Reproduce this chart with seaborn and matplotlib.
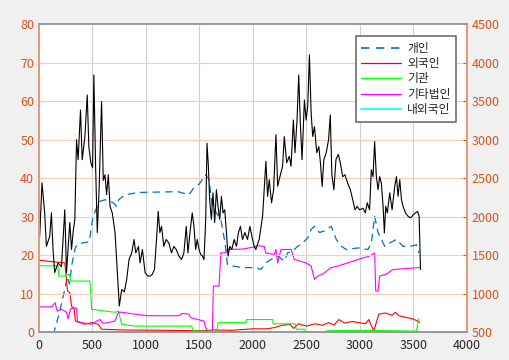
import numpy as np
import pandas as pd
import matplotlib
matplotlib.use("Agg")
import matplotlib.pyplot as plt
import seaborn as sns

sns.set_style("white")
plt.rcParams["font.family"] = ["Noto Sans CJK KR", "DejaVu Sans"]
plt.rcParams["font.size"] = 9

ORANGE = "#D95319"

# ---------------------------------------------------------------------------
# data (left axis: %, right axis: price)
# ---------------------------------------------------------------------------
price_x = [6, 28, 53, 69, 100, 116, 131, 147, 178, 210, 241, 257, 288, 304, 319, 335, 351, 366,
           388, 404, 429, 451, 466, 485, 501, 513, 529, 545, 563, 585, 601, 617, 632, 648, 664,
           685, 711, 735, 751, 773, 798, 820, 842, 867, 889, 905, 930, 945, 967, 992, 1017,
           1040, 1058, 1080, 1099, 1115, 1130, 1146, 1167, 1189, 1214, 1239, 1261, 1283, 1308,
           1333, 1355, 1377, 1393, 1412, 1433, 1449, 1465, 1480, 1496, 1512, 1528, 1543, 1559,
           1571, 1584, 1596, 1612, 1627, 1643, 1659, 1674, 1690, 1706, 1721, 1737, 1753, 1768,
           1784, 1803, 1825, 1847, 1865, 1884, 1903, 1925, 1950, 1972, 1997, 2013, 2028, 2059,
           2091, 2122, 2138, 2153, 2175, 2194, 2216, 2232, 2253, 2278, 2294, 2316, 2341, 2357,
           2379, 2394, 2413, 2429, 2444, 2460, 2482, 2498, 2513, 2529, 2545, 2560, 2576, 2598,
           2617, 2632, 2648, 2664, 2686, 2708, 2724, 2739, 2758, 2777, 2799, 2818, 2840, 2861,
           2887, 2912, 2934, 2956, 2975, 2998, 3030, 3052, 3070, 3092, 3108, 3124, 3139, 3155,
           3171, 3186, 3202, 3218, 3230, 3243, 3258, 3280, 3302, 3327, 3343, 3358, 3374, 3390,
           3405, 3427, 3452, 3477, 3499, 3521, 3540, 3555, 3568]
price_y = [1745, 2440, 2050, 1615, 1745, 2050, 1575, 1275, 1400, 1350, 2090, 1275, 1925, 1575,
           1800, 1965, 3000, 2740, 3385, 2740, 3040, 3580, 2910, 2700, 2635, 3840, 2675, 1795,
           2395, 3495, 2470, 2545, 2285, 2545, 2135, 2050, 1795, 1230, 840, 1055, 1025, 1185,
           1445, 1530, 1705, 1530, 1615, 1400, 1575, 1275, 1230, 1230, 1250, 1315, 1705, 2070,
           1795, 1875, 1615, 1705, 1660, 1530, 1615, 1575, 1490, 1445, 1530, 1875, 1530, 1795,
           2050, 1875, 1575, 1705, 1575, 1510, 1490, 1445, 1965, 2955, 2655, 2220, 1965, 2310,
           1925, 2350, 2135, 1965, 2265, 2050, 2090, 1795, 1490, 1615, 1575, 1705, 1615, 1795,
           1875, 1705, 1795, 1705, 1875, 1705, 1615, 1575, 1705, 2005, 2720, 2265, 2480, 2180,
           2350, 3065, 2395, 2520, 2655, 3040, 2700, 2785, 2655, 3255, 2830, 3255, 3840, 3210,
           2740, 3515, 3255, 3430, 4100, 3345, 3040, 3170, 2830, 2910, 2700, 2395, 2740, 2830,
           3000, 3320, 2545, 2350, 2740, 2810, 2700, 2520, 2545, 2435, 2350, 2220, 2090, 2135,
           2090, 2110, 2050, 2180, 2090, 2610, 2520, 2975, 2520, 2350, 2520, 2435, 2135, 1790,
           2135, 2050, 2310, 2090, 2395, 2520, 2265, 2480, 2220, 2135, 2050, 2005, 1985, 2025,
           2050, 2070, 2005, 1315]

indiv_x = [0, 140, 190, 240, 265, 285, 310, 340, 366, 470, 500, 530, 570, 617, 664, 700, 726,
           745, 804, 930, 1300, 1402, 1449, 1496, 1559, 1590, 1621, 1659, 1700, 1740, 1762,
           1809, 1903, 2022, 2075, 2122, 2169, 2232, 2294, 2325, 2388, 2419, 2466, 2513, 2545,
           2576, 2623, 2670, 2733, 2780, 2828, 2874, 2984, 3077, 3108, 3139, 3171, 3202, 3233,
           3280, 3343, 3405, 3468, 3530, 3555]
indiv_y = [0, 0, 5, 11, 14.5, 12.5, 18, 22, 23, 23.5, 29.3, 31.8, 34, 34.4, 34, 33.5, 32.7,
           34.4, 35.7, 36.3, 36.5, 35.7, 37.5, 38.4, 40.9, 39.6, 32.7, 31, 29.3, 23.2, 17.6,
           17.2, 16.8, 16.8, 16.3, 18, 18.9, 19.8, 18.5, 20.6, 21.5, 22.3, 23.2, 24.5, 26.7,
           27.5, 25.9, 26.3, 27.5, 24.1, 22.3, 21.5, 21.9, 21.5, 23.2, 30.1, 25.9, 24.1, 22.3,
           23.2, 24.1, 22.3, 22.3, 22.7, 20.6]

foreign_x = [0, 241, 257, 266, 288, 304, 329, 341, 382, 429, 492, 554, 585, 773, 1200, 1500,
             1650, 1800, 2000, 2129, 2200, 2270, 2350, 2380, 2427, 2500, 2583, 2650, 2708,
             2760, 2803, 2860, 2928, 3053, 3084, 3131, 3178, 3240, 3303, 3334, 3365, 3428,
             3490, 3537, 3560]
foreign_y = [18.7, 18, 13.7, 10.7, 10.3, 6.8, 6, 2.9, 2.5, 2.1, 2.5, 2.1, 0.8, 0.6, 0.5, 0.4,
             0.6, 0.5, 0.9, 0.9, 1.2, 1.8, 2.0, 1.0, 2.2, 1.6, 2.2, 1.8, 2.5, 1.9, 3.3, 2.4,
             2.8, 2.2, 3.3, 0.3, 4.7, 5, 4.4, 5.2, 4.3, 3.9, 3.5, 3, 2.5]

inst_x = [0, 178, 185, 257, 266, 288, 294, 476, 492, 617, 711, 742, 773, 898, 1428, 1440,
          1665, 1674, 1935, 1942, 2185, 2190, 2396, 2405, 2480, 2490, 2646, 2700, 3000, 3300,
          3530, 3550]
inst_y = [17.3, 17.2, 14.6, 14.6, 15, 15, 13.3, 13.3, 6, 5.5, 5.2, 5.5, 2.1, 1.6, 1.6, 0.3,
          0.3, 2.5, 2.5, 3.3, 3.3, 2.2, 2.2, 0.8, 0.8, 0, 0, 0.4, 0.5, 0.4, 0.3, 3.5]

corp_x = [0, 120, 150, 170, 210, 257, 273, 294, 319, 351, 360, 398, 492, 538, 570, 601, 711,
          742, 773, 898, 1017, 1308, 1339, 1402, 1418, 1543, 1559, 1580, 1621, 1631, 1684,
          1700, 1746, 1762, 1903, 2022, 2044, 2106, 2122, 2200, 2216, 2232, 2263, 2357, 2388,
          2498, 2545, 2576, 2607, 2654, 2733, 2796, 2887, 2984, 3092, 3139, 3149, 3171, 3186,
          3249, 3311, 3405, 3562]
corp_y = [6.6, 6.6, 7.7, 5.5, 6, 5.2, 3.5, 6, 6.4, 6.2, 2.9, 2.5, 2.1, 2.9, 3.3, 2.3, 2.9,
          5.2, 5.2, 4.7, 4.3, 4.3, 4.9, 4.7, 3.8, 2.9, 1.2, 0.2, 0, 12, 12, 20.6, 20.6, 21.5,
          21.6, 22.2, 22.5, 22.3, 20.6, 20.2, 21.5, 18, 21.5, 21.5, 18.9, 18, 17.2, 13.7, 14.6,
          15.1, 16.8, 17.2, 18, 18.9, 19.8, 20.6, 10.7, 10.7, 14.6, 15.1, 16.3, 16.5, 16.8]

inout_x = [0, 3560]
inout_y = [0, 0]

# ---------------------------------------------------------------------------
# figure
# ---------------------------------------------------------------------------
fig = plt.figure(figsize=(5.1, 3.6), dpi=100, facecolor="#F0F0F0")
ax = fig.add_axes([0.0765, 0.077, 0.8386, 0.856])
ax.set_facecolor("white")
ax2 = ax.twinx()

kw = dict(estimator=None, sort=False, legend=False)
sns.lineplot(x=indiv_x, y=indiv_y, ax=ax, color="#0072BD", lw=0.9, linestyle=(0, (6, 4)), **kw)
sns.lineplot(x=foreign_x, y=foreign_y, ax=ax, color="#FF0000", lw=0.8, **kw)
sns.lineplot(x=inst_x, y=inst_y, ax=ax, color="#00FF00", lw=0.8, **kw)
sns.lineplot(x=corp_x, y=corp_y, ax=ax, color="#FF00FF", lw=0.8, **kw)
sns.lineplot(x=inout_x, y=inout_y, ax=ax, color="#00FFFF", lw=1.2, **kw)
sns.lineplot(x=inout_x, y=inout_y, ax=ax, color="#5555DD", lw=1.0, alpha=0.7, **kw)
sns.lineplot(x=price_x, y=price_y, ax=ax2, color="black", lw=0.8, **kw)

ax.set_xlim(0, 4000)
ax.set_ylim(0, 80)
ax2.set_ylim(500, 4500)
ax.set_xticks(range(0, 4001, 500))
ax.set_yticks(range(0, 81, 10))
ax2.set_yticks(range(500, 4501, 500))
ax.set_xlabel("")
ax.set_ylabel("")
ax2.set_ylabel("")

# grids: vertical from the left axes, horizontal from the right one
ax.xaxis.grid(True, color="#CFCFCF", lw=0.8)
ax.yaxis.grid(False)
ax2.yaxis.grid(True, color="#F7CDB9", lw=0.8)
ax2.xaxis.grid(False)
ax.set_axisbelow(True)

for a in (ax, ax2):
    a.spines["top"].set_color("#9A9A9A")
    a.spines["bottom"].set_color("#9A9A9A")
    a.spines["left"].set_color("#E39A78")
    a.spines["right"].set_color("#E39A78")
    for s in a.spines.values():
        s.set_linewidth(1.3)

ax.tick_params(axis="x", colors="#404040", labelcolor="#262626", direction="in", length=3,
               labelsize=9, pad=5)
ax.tick_params(axis="y", colors=ORANGE, labelcolor=ORANGE, direction="in", length=3, labelsize=9)
ax2.tick_params(axis="y", colors=ORANGE, labelcolor=ORANGE, direction="in", length=3, labelsize=9)

handles = [
    plt.Line2D([], [], color="#0072BD", lw=1.2, linestyle=(0, (5, 4))),
    plt.Line2D([], [], color="#FF0000", lw=0.9),
    plt.Line2D([], [], color="#00FF00", lw=0.9),
    plt.Line2D([], [], color="#FF00FF", lw=0.9),
    plt.Line2D([], [], color="#00FFFF", lw=1.2),
]
labels = ["개인", "외국인", "기관", "기타법인", "내외국인"]
leg = ax2.legend(handles, labels, loc="upper right", bbox_to_anchor=(0.975, 0.96),
                 fontsize=8.5, frameon=True, fancybox=False, framealpha=1,
                 edgecolor="#6E6E6E", handlelength=3.4, labelspacing=0.2,
                 borderpad=0.45, handletextpad=0.5, borderaxespad=0)
leg.get_frame().set_linewidth(1.2)
for t in leg.get_texts():
    t.set_color("#262626")

fig.savefig("out.png", dpi=100, facecolor=fig.get_facecolor())
